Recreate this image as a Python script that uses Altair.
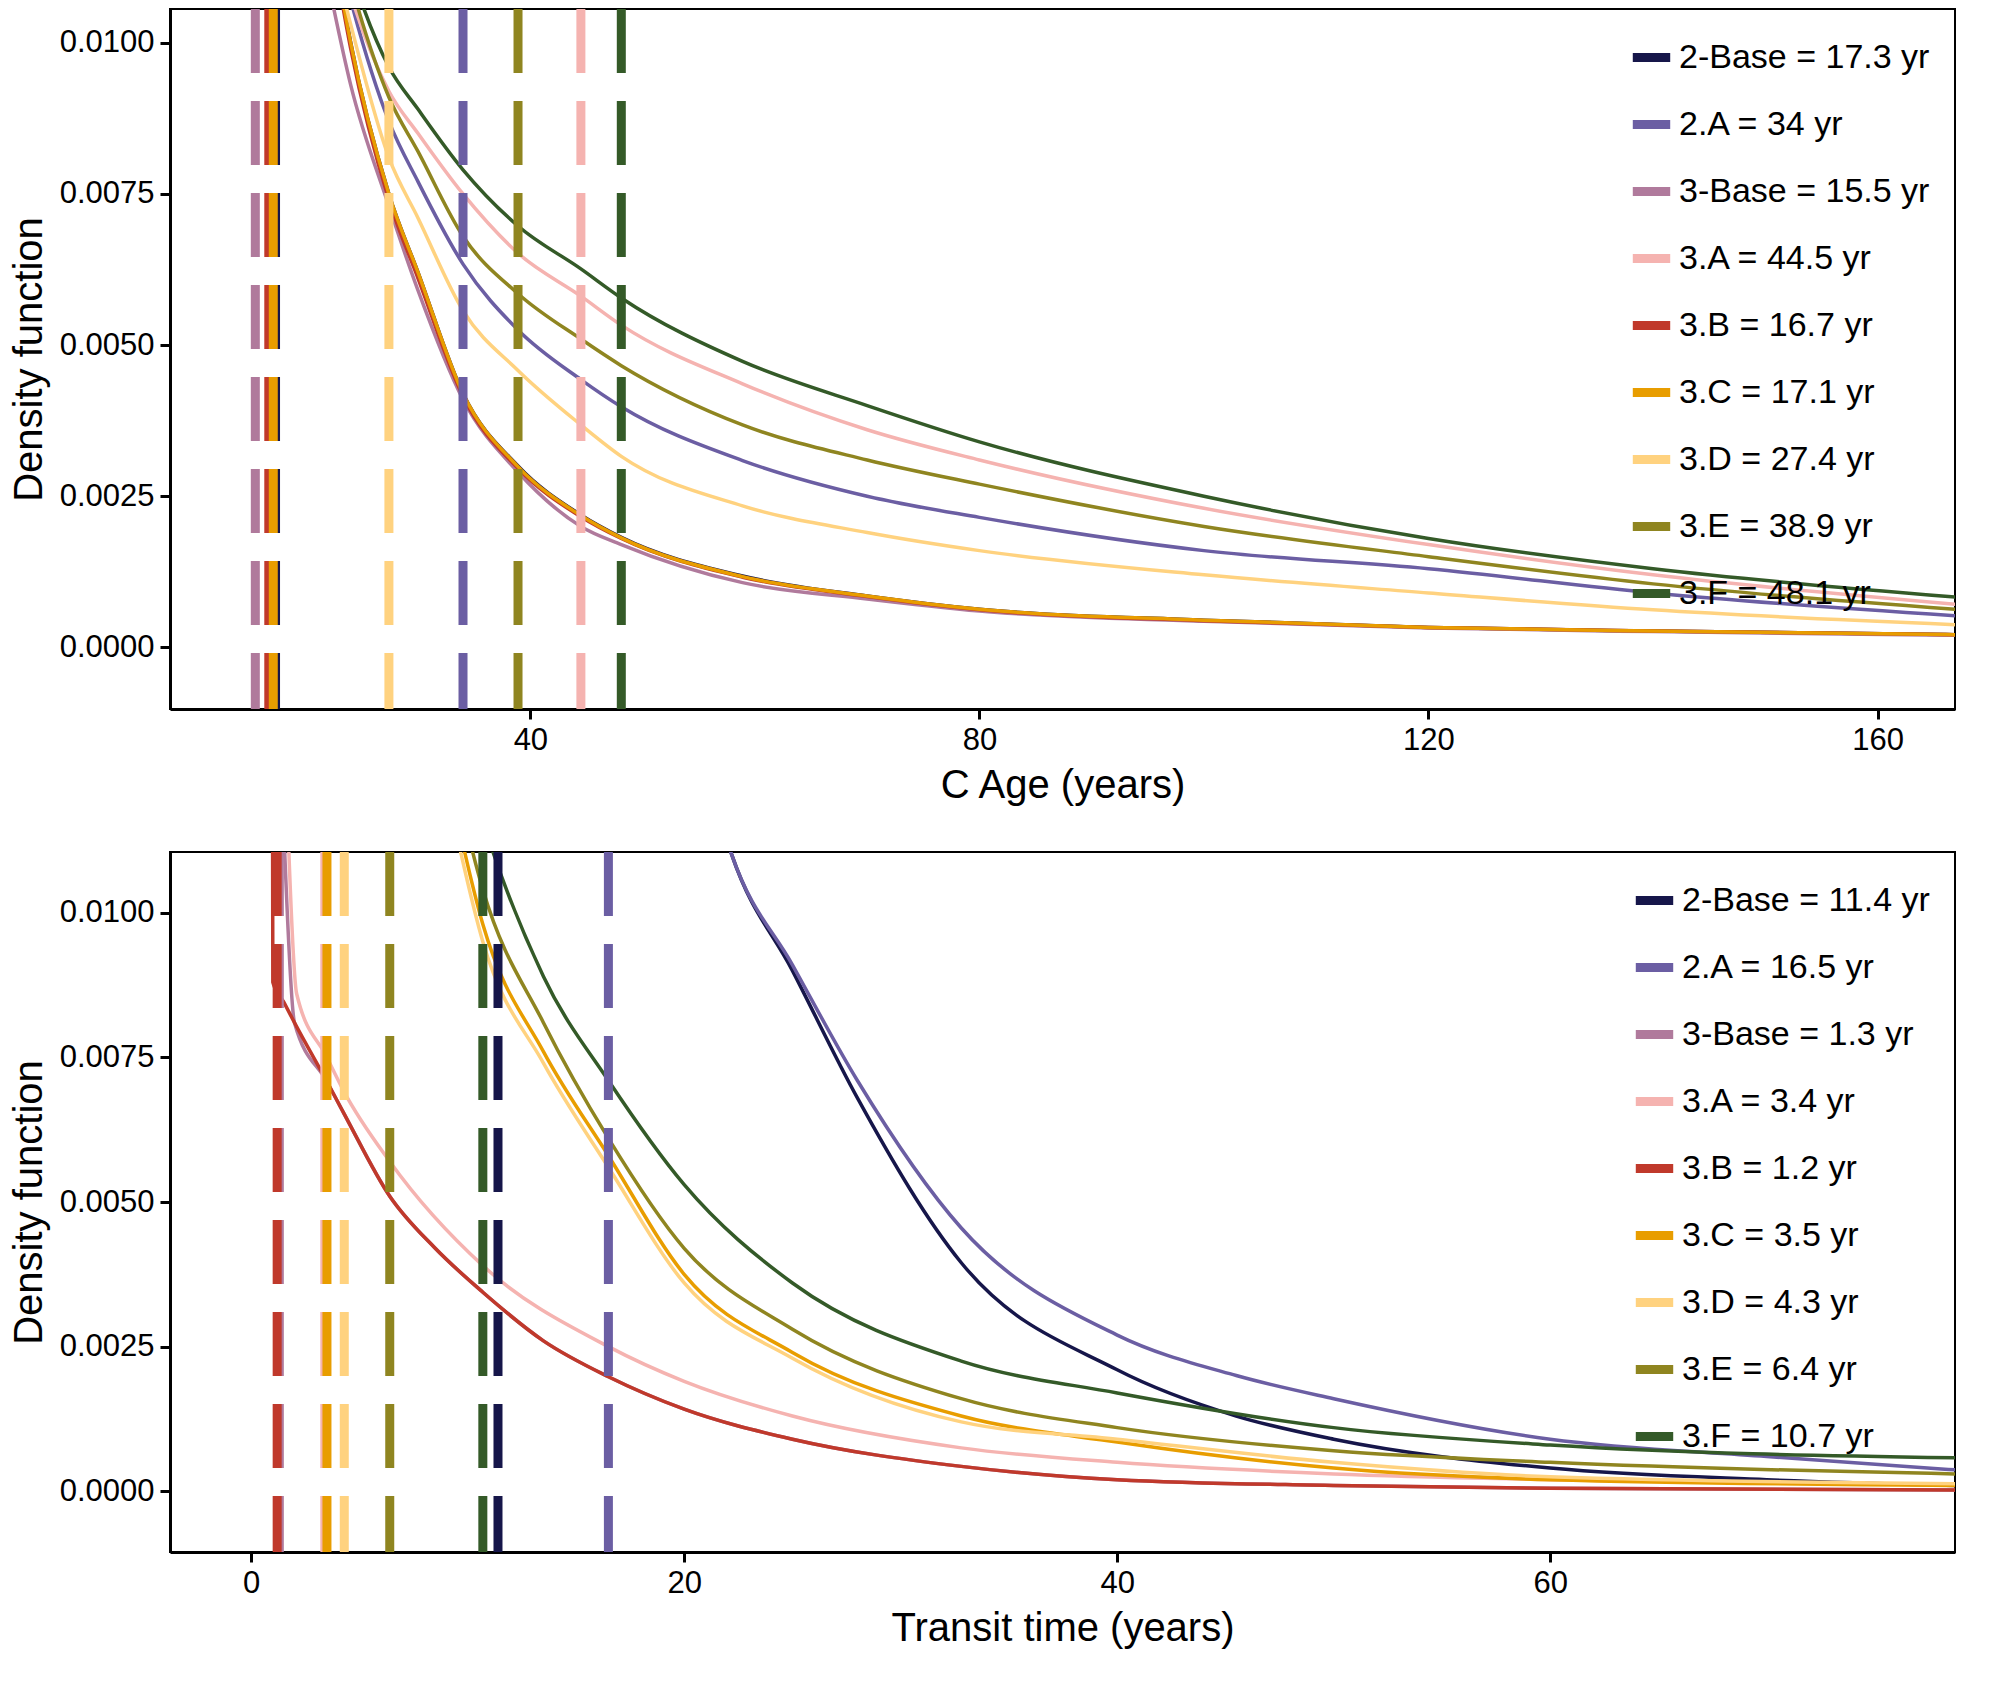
import pandas as pd
import altair as alt

names = ['2-Base', '2.A', '3-Base', '3.A', '3.B', '3.C', '3.D', '3.E', '3.F']
colors = ['#16164a', '#6b5ea3', '#b07a9c', '#f5b3b0', '#c0392b', '#e89d00', '#ffd27f', '#8f8520', '#345a28']

# mean values shown in the legends (years)
age_means = [17.3, 34, 15.5, 44.5, 16.7, 17.1, 27.4, 38.9, 48.1]
tt_means = [11.4, 16.5, 1.3, 3.4, 1.2, 3.5, 4.3, 6.4, 10.7]

# C age densities
age_x = [22, 24, 27.4, 30, 34, 38.9, 44.5, 48.1, 58.9, 70, 80, 100, 120, 140, 167]
age_y = {
    '2-Base': [0.0122, 0.0100, 0.0075, 0.0062, 0.0042, 0.0030, 0.00219, 0.00182, 0.00118, 0.00085, 0.00063, 0.00045, 0.00033, 0.00027, 0.00021],
    '2.A': [0.0122, 0.0107, 0.0087, 0.0077, 0.00634, 0.00525, 0.00443, 0.00398, 0.00309, 0.0025, 0.00215, 0.0016, 0.0013, 0.0009, 0.00052],
    '3-Base': [0.0110, 0.0093, 0.0073, 0.0059, 0.0041, 0.0029, 0.0020, 0.0017, 0.00107, 0.0008, 0.0006, 0.00043, 0.00032, 0.00026, 0.0002],
    '3.A': [0.0122, 0.0108, 0.0092, 0.0085, 0.0075, 0.00652, 0.00581, 0.00533, 0.00436, 0.0036, 0.0031, 0.0023, 0.0017, 0.0012, 0.00071],
    '3.B': [0.0120, 0.0099, 0.0074, 0.0061, 0.00415, 0.00296, 0.00216, 0.0018, 0.00116, 0.00084, 0.00062, 0.00044, 0.00033, 0.00027, 0.00021],
    '3.C': [0.0121, 0.0100, 0.0075, 0.0062, 0.0042, 0.00299, 0.00218, 0.00181, 0.00117, 0.00085, 0.00063, 0.00045, 0.00033, 0.00027, 0.00021],
    '3.D': [0.0118, 0.0103, 0.0081, 0.0071, 0.00557, 0.00458, 0.00368, 0.00316, 0.00234, 0.0019, 0.0016, 0.0012, 0.0009, 0.00062, 0.000375],
    '3.E': [0.0125, 0.0110, 0.0091, 0.0082, 0.0068, 0.00585, 0.0051, 0.00466, 0.00368, 0.0031, 0.0027, 0.0020, 0.0015, 0.00105, 0.00063],
    '3.F': [0.0125, 0.0112, 0.0096, 0.0089, 0.0079, 0.00697, 0.00626, 0.00578, 0.00473, 0.0040, 0.0034, 0.0025, 0.0018, 0.0013, 0.00083],
}

# transit time densities
tt_x_fast = [0.95, 1.0, 1.5, 2.0, 3.5, 4.3, 6.4, 8.5, 10.7, 13.5, 16.5, 20, 25, 32.8, 40, 50, 60, 78.7]
tt_red = [0.02, 0.0088, 0.00846, 0.0081, 0.00708, 0.00652, 0.0051, 0.0042, 0.00344, 0.0026, 0.00198, 0.00142, 0.0009, 0.00043, 0.0002, 0.0001, 0.00005, 0.00002]
tt_x_3base = [1.5, 2.0, 3.5, 4.3, 6.4, 8.5, 10.7, 13.5, 16.5, 20, 25, 32.8, 40, 50, 60, 78.7]
tt_3base = [0.0115, 0.0081, 0.00708, 0.00652, 0.0051, 0.0042, 0.00344, 0.0026, 0.00198, 0.00142, 0.0009, 0.00043, 0.0002, 0.0001, 0.00005, 0.00002]
tt_x_3a = [1.6, 2.1, 3.5, 4.3, 6.4, 10.7, 16.5, 20, 25, 32.8, 40, 50, 60, 78.7]
tt_3a = [0.0125, 0.0086, 0.0075, 0.0069, 0.0057, 0.0039, 0.0025, 0.0019, 0.0013, 0.00075, 0.0005, 0.0003, 0.0002, 0.0001]
tt_x_mid = [9.0, 10.7, 13.5, 16.5, 20, 25, 32.8, 40, 50, 60, 78.7]
tt_3c = [0.0125, 0.0098, 0.0076, 0.0058, 0.00375, 0.0024, 0.0013, 0.00085, 0.0004, 0.0002, 0.0001]
tt_3d = [0.0122, 0.0095, 0.0074, 0.0056, 0.0036, 0.0023, 0.0012, 0.0009, 0.0005, 0.00025, 0.00013]
tt_3e = [0.0130, 0.0104, 0.0081, 0.0061, 0.0042, 0.0028, 0.0016, 0.0011, 0.0007, 0.0005, 0.0003]
tt_3f = [0.0140, 0.0116, 0.0089, 0.0071, 0.0053, 0.0036, 0.00225, 0.0017, 0.0011, 0.0008, 0.00058]
tt_x_slow = [21.0, 22.2, 25, 28, 32.8, 40, 45.5, 50, 60, 70, 78.7]
tt_2base = [0.0125, 0.0110, 0.0090, 0.0068, 0.00395, 0.0021, 0.0013, 0.0009, 0.0004, 0.0002, 0.0001]
tt_2a = [0.0125, 0.0110, 0.0091, 0.0071, 0.00455, 0.0027, 0.0020, 0.0016, 0.0009, 0.0006, 0.00037]

tt_series = {
    '2-Base': (tt_x_slow, tt_2base),
    '2.A': (tt_x_slow, tt_2a),
    '3-Base': (tt_x_3base, tt_3base),
    '3.A': (tt_x_3a, tt_3a),
    '3.B': (tt_x_fast, tt_red),
    '3.C': (tt_x_mid, tt_3c),
    '3.D': (tt_x_mid, tt_3d),
    '3.E': (tt_x_mid, tt_3e),
    '3.F': (tt_x_mid, tt_3f),
}

FONT = 'Liberation Sans'
W, H = 1785, 700


def panel(curves, means, xdom, xticks, xtitle, ydom):
    labels = [f'{n} = {m:g} yr' for n, m in zip(names, means)]
    rows = []
    for n, lab in zip(names, labels):
        xs, ys = curves[n]
        rows += [{'label': lab, 'x': a, 'y': b} for a, b in zip(xs, ys)]
    df = pd.DataFrame(rows)
    dm = pd.DataFrame({'label': labels, 'x': means})

    legend = alt.Legend(title=None, orient='top-right', symbolType='stroke',
                        symbolStrokeWidth=9, symbolSize=1400, labelFontSize=34,
                        labelFont=FONT, labelColor='black', rowPadding=25, labelLimit=400,
                        offset=20, padding=5)
    color = alt.Color('label:N', scale=alt.Scale(domain=labels, range=colors), legend=legend)
    xscale = alt.Scale(domain=xdom, nice=False, zero=False)
    xs = alt.X('x:Q', scale=xscale, axis=alt.Axis(values=xticks, format='d', title=xtitle))
    ys = alt.Y('y:Q', scale=alt.Scale(domain=ydom, nice=False),
               axis=alt.Axis(values=[0, 0.0025, 0.005, 0.0075, 0.01], format='.4f',
                             title='Density function'))

    lines = alt.Chart(df).mark_line(strokeWidth=3.5, clip=True, interpolate='monotone').encode(
        x=xs, y=ys, color=color, detail='label:N', order='x:Q'
    )
    rules = alt.Chart(dm).mark_rule(strokeWidth=9, strokeDash=[64, 28], clip=True).encode(
        x=xs, y=alt.value(0), y2=alt.value(H), color=color,
    )
    return alt.layer(lines, rules).properties(width=W, height=H)


top = panel({n: (age_x, age_y[n]) for n in names}, age_means, [7.9, 166.9],
            [40, 80, 120, 160], 'C Age (years)', [-0.00102, 0.01056])
bottom = panel(tt_series, tt_means, [-3.75, 78.7], [0, 20, 40, 60],
               'Transit time (years)', [-0.00105, 0.01105])

chart = alt.vconcat(top, bottom, spacing=45, padding=0).resolve_scale(
    color='independent'
).configure_axis(
    grid=False, domainColor='black', domainWidth=3, tickColor='black', tickWidth=3,
    tickSize=10, labelFont=FONT, titleFont=FONT, labelFontSize=31, titleFontSize=40,
    labelColor='black', titleColor='black', titleFontWeight='normal', labelPadding=6,
    titlePadding=10
).configure_view(stroke='black', strokeWidth=2)

chart.save("out.html", embed_options={"renderer": "svg", "actions": False})
